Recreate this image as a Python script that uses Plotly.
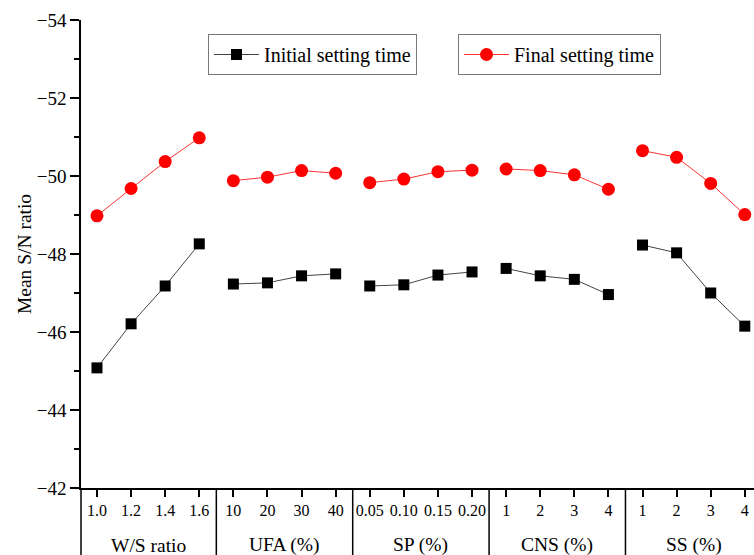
import plotly.graph_objects as go

groups = ["W/S ratio", "UFA (%)", "SP (%)", "CNS (%)", "SS (%)"]
levels = [
    ["1.0", "1.2", "1.4", "1.6"],
    ["10", "20", "30", "40"],
    ["0.05", "0.10", "0.15", "0.20"],
    ["1", "2", "3", "4"],
    ["1", "2", "3", "4"],
]
initial = [
    [-45.08, -46.21, -47.18, -48.26],
    [-47.23, -47.26, -47.44, -47.49],
    [-47.18, -47.21, -47.46, -47.54],
    [-47.63, -47.44, -47.35, -46.96],
    [-48.23, -48.03, -47.00, -46.15],
]
final = [
    [-48.98, -49.68, -50.37, -50.98],
    [-49.88, -49.97, -50.14, -50.07],
    [-49.83, -49.92, -50.11, -50.15],
    [-50.18, -50.14, -50.03, -49.66],
    [-50.65, -50.48, -49.81, -49.01],
]

FONT = "Liberation Serif"

# build x positions with gaps between groups
xs, yi, yf, tickvals, ticktext = [], [], [], [], []
pos = 0
for g, labs in enumerate(levels):
    for k, lab in enumerate(labs):
        xs.append(pos); yi.append(initial[g][k]); yf.append(final[g][k])
        tickvals.append(pos); ticktext.append(lab)
        pos += 1
    xs.append(None); yi.append(None); yf.append(None)

n = len(tickvals)
r0, r1 = -0.469, n - 1 + 0.27

fig = go.Figure()
fig.add_trace(go.Scatter(
    x=xs, y=yi, mode="lines+markers", name="Initial setting time",
    line=dict(color="#444444", width=1),
    marker=dict(symbol="square", size=11, color="black"),
    legend="legend",
))
fig.add_trace(go.Scatter(
    x=xs, y=yf, mode="lines+markers", name="Final setting time",
    line=dict(color="#ff3333", width=1),
    marker=dict(symbol="circle", size=13, color="#ff0000"),
    legend="legend2",
))

shapes = []
annotations = []
bottom = -67 / 468
def px(xv):
    return (xv - r0) / (r1 - r0)

start = 0
for g, labs in enumerate(levels):
    end = start + len(labs) - 1
    annotations.append(dict(
        x=(start + end) / 2, xref="x", y=-57 / 468, yref="paper",
        text=groups[g], showarrow=False, yanchor="middle",
        font=dict(family=FONT, size=19.5, color="black"),
    ))
    if g < len(levels) - 1:
        shapes.append(dict(type="line", xref="paper", yref="paper",
                           x0=px(end + 0.5), x1=px(end + 0.5), y0=0, y1=bottom,
                           line=dict(color="black", width=1.5)))
    start = end + 1
shapes.append(dict(type="line", xref="paper", yref="paper",
                   x0=0, x1=0, y0=0, y1=bottom,
                   line=dict(color="black", width=1.5)))

legend_style = dict(
    orientation="h", bgcolor="white", bordercolor="#777777", borderwidth=1,
    font=dict(family=FONT, size=20, color="black"),
    xanchor="left", yanchor="top", itemwidth=45,
)

fig.update_layout(
    width=754, height=555,
    margin=dict(l=81, r=0, t=20, b=67),
    plot_bgcolor="white", paper_bgcolor="white",
    font=dict(family=FONT, size=19, color="black"),
    showlegend=True,
    legend=dict(x=(208 - 81) / 673, y=(488 - 34) / 468, **legend_style),
    legend2=dict(x=(458 - 81) / 673, y=(488 - 34) / 468, **legend_style),
    xaxis=dict(
        range=[r0, r1], tickvals=tickvals, ticktext=ticktext,
        showline=True, linecolor="black", linewidth=1.5,
        ticks="outside", ticklen=7, tickwidth=1.5, tickcolor="black",
        showgrid=False, zeroline=False,
        tickfont=dict(family=FONT, size=16, color="black"),
    ),
    yaxis=dict(
        range=[-42, -54], tickvals=list(range(-54, -41, 2)),
        showline=True, linecolor="black", linewidth=1.5,
        ticks="outside", ticklen=9, tickwidth=1.5, tickcolor="black",
        minor=dict(tickvals=list(range(-53, -42, 2)), ticks="outside", ticklen=5,
                   tickwidth=1.5, tickcolor="black"),
        showgrid=False, zeroline=False,
        tickfont=dict(family=FONT, size=19, color="black"),
        title=dict(text="Mean S/N ratio", font=dict(family=FONT, size=19.5, color="black"),
                   standoff=0),
    ),
    shapes=shapes,
    annotations=annotations,
)

fig.write_html("out.html", config={"displayModeBar": False},
               post_script="document.body.style.margin='0';document.body.style.overflow='hidden';")
